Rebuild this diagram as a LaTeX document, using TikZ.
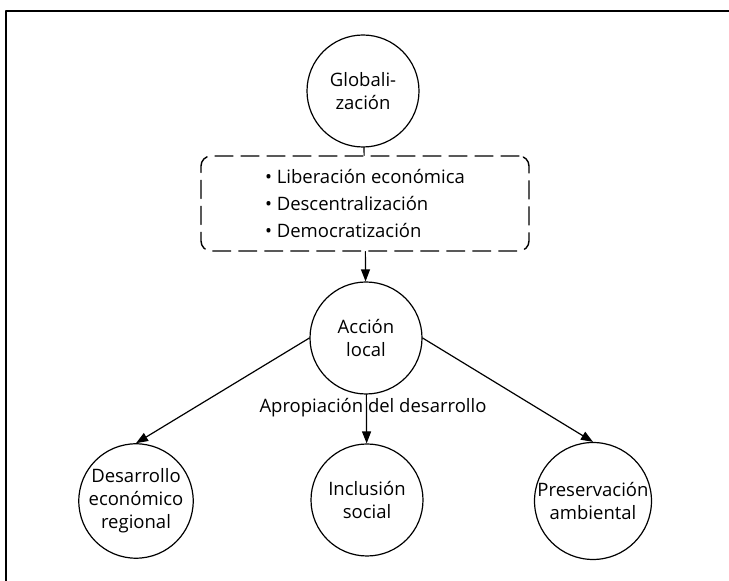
\documentclass[tikz,border=0pt]{standalone}
\usepackage{fontspec}
\setmainfont{Open Sans}
\usepackage{tikz}
\usetikzlibrary{arrows.meta}
\usetikzlibrary{positioning}

\tikzset{
  topic/.style={draw,line width=1.2pt,circle,minimum size=112pt,inner sep=0pt,
    align=center,font=\fontsize{18.5}{23}\selectfont},
  listbox/.style={draw,line width=1.4pt,dashed,dash pattern=on 18pt off 8pt,
    rounded corners=10pt,minimum width=328pt,minimum height=95pt,align=left,
    font=\fontsize{18.5}{27}\selectfont},
  link/.style={line width=1.2pt}
}

\begin{document}
\begin{tikzpicture}[line cap=round,line join=round,>={Triangle[length=12pt,width=9pt]},x=1pt,y=1pt]
\useasboundingbox (0,0) rectangle (729,581);
\draw [line width=1.5pt,line cap=butt] (6,0)-- (6,570)-- (729,570);

\node[topic] (glob) at (363,490) {Globali-\\zación};
\node[listbox] (box) at (365,377.5) {• Liberación económica\\• Descentralización\\• Democratización};
\node[topic] (accion) at (366,243) {Acción\\local};

\node[topic] (desarrollo) at (136,80) {Desarrollo\\económico\\regional};
\node[topic] (inclusion) at (367,81) {Inclusión\\social};
\node[topic] (preserv) at (593,80) {Preservación\\ambiental};

\node[font=\fontsize{18.5}{20}\selectfont] (apropia) at (373,173) {Apropiación del desarrollo};

\draw [link] (glob)-- (box);
\draw [link,->] (box)-- (accion);
\draw [link,->] (accion.west)-- (desarrollo.north);
\draw [link,->] (accion)-- (inclusion);
\draw [link,->] (accion.east)-- (preserv.north);
\end{tikzpicture}
\end{document}
